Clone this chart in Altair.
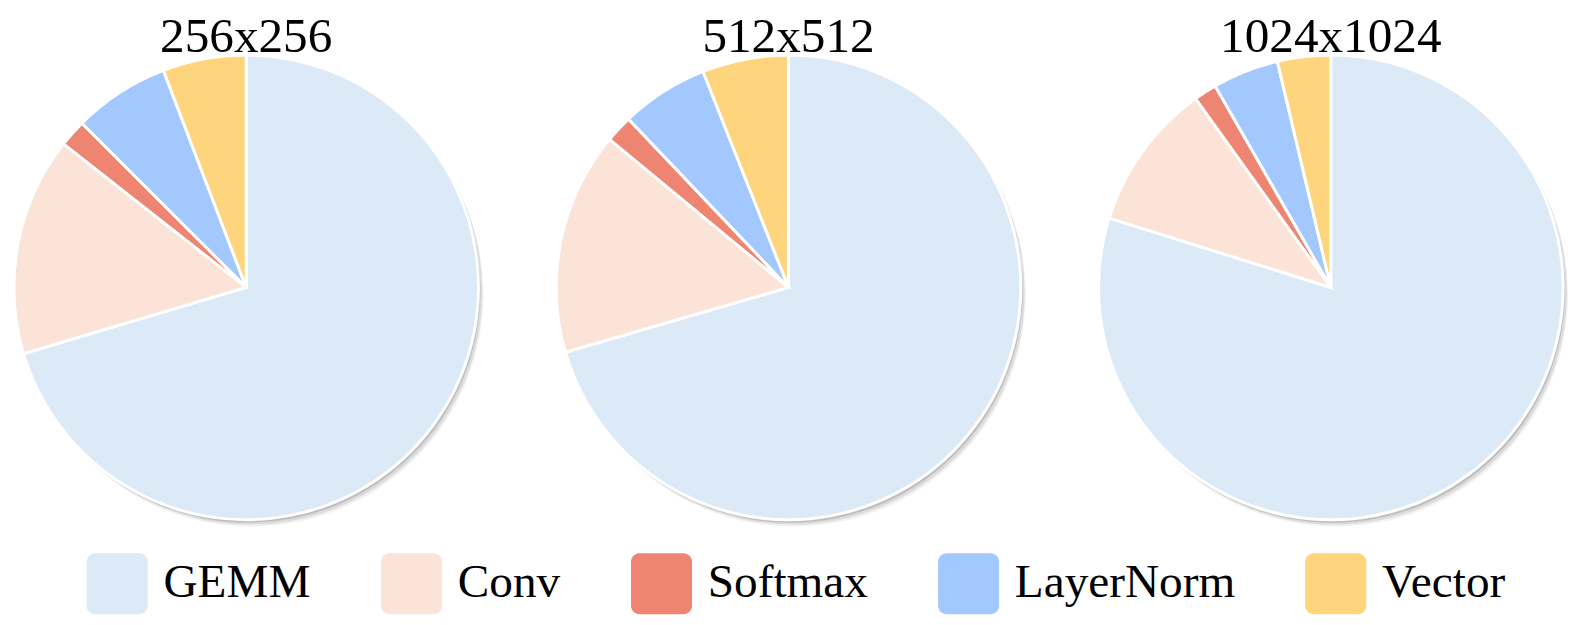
import math
import altair as alt
import pandas as pd

categories = ["GEMM", "Conv", "Softmax", "LayerNorm", "Vector"]
colors = ["#dce9f6", "#fbe3d8", "#ee8572", "#a2c8fd", "#fed47d"]
resolutions = ["256x256", "512x512", "1024x1024"]
share_256 = [70.4, 15.2, 1.9, 6.7, 5.8]
share_512 = [70.5, 15.5, 1.9, 6.1, 6.0]
share_1024 = [79.9, 10.3, 1.6, 4.6, 3.7]
shares = [share_256, share_512, share_1024]

ROUNDED = ("M-0.72,-1H0.72A0.28,0.28 0 0 1 1,-0.72V0.72A0.28,0.28 0 0 1 0.72,1"
           "H-0.72A0.28,0.28 0 0 1 -1,0.72V-0.72A0.28,0.28 0 0 1 -0.72,-1Z")

W, H = 472, 558
FULL = 2 * math.pi

legend = alt.Legend(
    title=None, orient="none", legendX=74, legendY=549, direction="horizontal",
    symbolType=ROUNDED, symbolSize=3844, symbolStrokeWidth=0, symbolOpacity=1,
    labelFont="Liberation Serif", labelFontSize=48, labelColor="black",
    labelOffset=16, columnPadding=70, labelLimit=500,
)


def pie(res, values):
    df = pd.DataFrame({"op": categories, "share": values, "rank": list(range(len(categories)))})
    one = pd.DataFrame({"res": [res]})
    layers = []
    for dx, dy, op in [(5, 7, 0.07), (4, 5, 0.12), (2, 3, 0.2)]:
        layers.append(
            alt.Chart(one).mark_arc(theta=0, theta2=FULL, xOffset=dx, yOffset=dy, opacity=op)
            .encode(color=alt.value("#444444"))
        )
    layers.append(
        alt.Chart(df).mark_arc(stroke="white", strokeWidth=3)
        .encode(
            theta=alt.Theta("share:Q", stack=True),
            order=alt.Order("rank:Q"),
            color=alt.Color("op:N", scale=alt.Scale(domain=categories, range=colors),
                            legend=legend),
        )
    )
    layers.append(
        alt.Chart(one).mark_text(font="Liberation Serif", fontSize=50, color="black",
                                 baseline="alphabetic", align="center")
        .encode(text="res:N", x=alt.value(W / 2), y=alt.value(40))
    )
    return alt.layer(*layers).properties(width=W, height=H)


chart = alt.hconcat(*[pie(r, v) for r, v in zip(resolutions, shares)], spacing=67).properties(
    padding=0
).configure_view(stroke=None)

chart.save("out.html", embed_options={"renderer": "svg", "actions": False})
